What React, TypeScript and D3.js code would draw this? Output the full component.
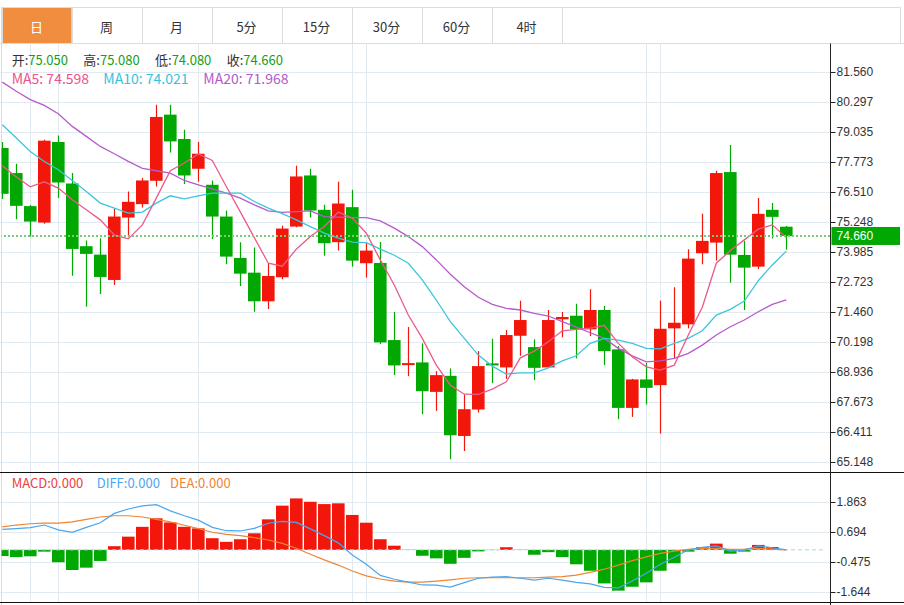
import React from 'react';
import * as d3 from 'd3';

const tabs = ['日', '周', '月', '5分', '15分', '30分', '60分', '4时'];

const opens = [78.361, 77.307, 75.916, 75.224, 78.614, 76.868, 74.229, 73.875, 72.809, 75.435,
  76.000, 76.982, 79.765, 78.740, 77.488, 76.814, 75.477, 73.736, 73.116, 71.911,
  72.922, 75.056, 77.206, 75.760, 74.398, 75.873, 73.513, 73.525, 70.279, 69.225,
  69.339, 68.099, 68.774, 66.244, 67.357, 69.297, 69.128, 70.460, 69.984, 69.128,
  71.152, 71.303, 70.730, 71.544, 69.887, 67.425, 68.622, 68.382, 70.772, 70.941,
  73.934, 74.381, 77.349, 73.862, 73.369, 75.760, 75.050];
const highs = [78.614, 77.699, 75.958, 78.711, 78.892, 77.307, 74.465, 74.567, 75.831, 76.531,
  77.096, 80.186, 80.186, 79.132, 78.614, 76.995, 75.730, 74.398, 74.170, 73.513,
  75.085, 77.615, 77.488, 75.970, 76.940, 76.603, 74.368, 74.411, 71.459, 70.827,
  70.140, 68.972, 69.086, 67.990, 69.815, 70.334, 70.701, 71.936, 70.309, 71.544,
  71.459, 71.809, 72.416, 71.712, 70.026, 68.647, 69.322, 71.936, 72.501, 74.103,
  75.591, 77.404, 78.487, 74.453, 76.253, 76.042, 75.080];
const lows = [76.211, 75.368, 74.634, 75.169, 76.253, 72.990, 71.683, 72.218, 72.598, 74.609,
  75.857, 76.742, 78.175, 76.843, 76.940, 74.537, 73.470, 72.556, 71.472, 71.586,
  72.838, 75.022, 75.435, 73.833, 74.044, 73.369, 72.905, 70.110, 68.803, 68.761,
  67.159, 67.298, 65.262, 65.612, 67.231, 68.466, 68.647, 69.617, 68.593, 69.099,
  70.393, 69.507, 70.448, 69.225, 66.948, 67.045, 67.568, 66.346, 69.491, 70.772,
  73.470, 73.622, 72.695, 71.544, 73.272, 74.549, 74.080];
const closes = [76.434, 75.928, 75.266, 78.669, 76.911, 74.115, 73.905, 72.935, 75.477, 76.097,
  76.995, 79.668, 78.639, 77.206, 78.121, 75.477, 73.791, 73.074, 71.911, 72.977,
  74.971, 77.164, 75.730, 74.356, 76.025, 73.622, 74.044, 70.182, 69.212, 69.309,
  68.129, 68.803, 66.274, 67.370, 69.183, 69.212, 70.490, 71.122, 69.111, 71.122,
  71.249, 70.730, 71.544, 69.815, 67.425, 68.622, 68.268, 70.755, 71.008, 73.707,
  74.453, 77.307, 73.875, 73.327, 75.591, 75.464, 74.660];

const ma5 = [77.615, 77.138, 76.729, 76.940, 76.675, 76.181, 75.760, 75.338, 74.706, 74.537,
  75.127, 76.253, 77.404, 77.728, 78.108, 77.838, 76.742, 75.675, 74.592, 73.513,
  73.386, 74.103, 74.634, 75.056, 75.663, 75.410, 74.777, 73.652, 72.598, 71.333,
  70.351, 69.225, 68.382, 68.002, 67.990, 68.213, 68.521, 69.533, 69.815, 70.207,
  70.671, 70.730, 70.785, 70.899, 70.140, 69.575, 69.153, 69.014, 69.225, 70.490,
  71.658, 73.513, 74.044, 74.495, 74.946, 75.127, 74.598];
const ma10 = [79.343, 78.782, 78.218, 77.796, 77.446, 76.995, 76.531, 76.042, 75.831, 75.621,
  75.663, 76.042, 76.350, 76.223, 76.350, 76.464, 76.464, 76.464, 76.110, 75.831,
  75.604, 75.338, 75.056, 74.777, 74.567, 74.398, 74.381, 74.103, 73.850, 73.513,
  72.809, 71.965, 71.051, 70.351, 69.647, 69.183, 68.846, 68.900, 68.900, 69.111,
  69.406, 69.617, 70.140, 70.351, 70.279, 70.140, 69.929, 69.912, 70.140, 70.351,
  70.671, 71.333, 71.573, 71.923, 72.779, 73.441, 74.021];
const ma20 = [81.135, 80.747, 80.397, 80.157, 79.807, 79.272, 78.850, 78.428, 78.121, 77.796,
  77.501, 77.404, 77.307, 76.995, 76.814, 76.645, 76.464, 76.253, 75.970, 75.718,
  75.654, 75.688, 75.718, 75.477, 75.452, 75.435, 75.435, 75.296, 74.988, 74.634,
  74.212, 73.652, 73.049, 72.526, 72.079, 71.784, 71.615, 71.544, 71.405, 71.291,
  71.051, 70.827, 70.587, 70.351, 69.929, 69.617, 69.364, 69.406, 69.507, 69.718,
  70.068, 70.490, 70.840, 71.122, 71.472, 71.784, 71.968];

const macdBars = [-0.24, -0.28, -0.25, -0.07, -0.48, -0.78, -0.69, -0.43, 0.14, 0.51,
  0.89, 1.22, 1.06, 0.89, 0.83, 0.45, 0.31, 0.41, 0.64, 1.18,
  1.71, 1.99, 1.86, 1.77, 1.80, 1.35, 1.05, 0.41, 0.16, 0.01,
  -0.23, -0.33, -0.54, -0.31, -0.06, -0.01, 0.10, 0.01, -0.19, -0.09,
  -0.28, -0.56, -0.81, -1.30, -1.58, -1.43, -1.26, -0.81, -0.52, -0.07,
  0.10, 0.24, -0.15, -0.07, 0.19, 0.11, 0];
const diffLine = [0.79, 0.82, 0.86, 0.96, 0.77, 0.68, 0.87, 1.05, 1.41, 1.58,
  1.70, 1.75, 1.51, 1.32, 1.15, 0.87, 0.74, 0.73, 0.83, 1.03,
  1.10, 1.06, 0.81, 0.55, 0.27, -0.20, -0.56, -0.99, -1.14, -1.25,
  -1.36, -1.37, -1.44, -1.27, -1.10, -1.06, -1.04, -1.10, -1.17, -1.10,
  -1.17, -1.26, -1.32, -1.45, -1.47, -1.21, -0.91, -0.56, -0.29, 0.00,
  0.10, 0.15, -0.05, -0.01, 0.15, 0.08, 0.00];
const deaLine = [0.89, 0.96, 1.01, 1.03, 1.03, 1.08, 1.18, 1.27, 1.32, 1.32,
  1.27, 1.18, 1.08, 0.95, 0.82, 0.68, 0.60, 0.55, 0.47, 0.38,
  0.25, 0.06, -0.17, -0.39, -0.59, -0.82, -1.01, -1.13, -1.21, -1.25,
  -1.25, -1.21, -1.16, -1.10, -1.08, -1.08, -1.08, -1.08, -1.08, -1.06,
  -1.04, -0.98, -0.87, -0.75, -0.59, -0.42, -0.27, -0.14, -0.05, 0.02,
  0.06, 0.06, 0.02, 0.03, 0.06, 0.03, 0.00];

const priceTicks = [81.560, 80.297, 79.035, 77.773, 76.510, 75.248, 73.985, 72.723, 71.460, 70.198, 68.936, 67.673, 66.411, 65.148];
const macdTicks = [1.863, 0.694, -0.475, -1.644];
const dividerIdx = [2, 4, 14, 25, 26, 46, 47];

const ohlcLabels = [
  { name: '开', value: '75.050' },
  { name: '高', value: '75.080' },
  { name: '低', value: '74.080' },
  { name: '收', value: '74.660' },
];
const maLabels = [
  { text: 'MA5: 74.598', color: '#f0508c' },
  { text: 'MA10: 74.021', color: '#35c3db' },
  { text: 'MA20: 71.968', color: '#b459c9' },
];
const macdLabels = [
  { text: 'MACD:0.000', color: '#f04040' },
  { text: 'DIFF:0.000', color: '#4ba6ee' },
  { text: 'DEA:0.000', color: '#f08432' },
];
const lastPrice = 74.660;

const RED = '#f2160b';
const GREEN = '#02a802';
const GRID = '#e1eaf1';
const CJK = '"Noto Sans CJK SC", "Noto Sans", sans-serif';
const AXF = '"Liberation Sans", Arial, sans-serif';

export default function App() {
  const W = 904, H = 605;
  const axisX = 830.5;
  const n = closes.length;
  const x = d3.scaleLinear().domain([0, n - 1]).range([2.3, 786.3]);
  const yP = d3.scaleLinear().domain([65.148, 81.56]).range([462, 72]);
  const yM = d3.scaleLinear().domain([-1.644, 1.863]).range([592.3, 501.7]);
  const bw = 12.6;
  const pLine = (s: number[]) => d3.line<number>().x((_, i) => x(i)).y((d) => yP(d))(s) || '';
  const mLine = (s: number[]) => d3.line<number>().x((_, i) => x(i)).y((d) => yM(d))(s) || '';
  const tabX = d3.scaleLinear().domain([0, 1]).range([1.5, 71.5]);
  const ohlcX = [11.7, 83.3, 155, 226.7];
  const maX = [11.7, 103.3, 203.3];
  const macdX = [11.7, 96.7, 170];

  return (
    <svg width={W} height={H} style={{ position: 'absolute', left: 0, top: 0, background: '#fff' }}>
      <defs>
        <clipPath id="pclip"><rect x={1.5} y={43.5} width={axisX - 1.5} height={428.5} /></clipPath>
        <clipPath id="mclip"><rect x={1.5} y={472.5} width={axisX - 1.5} height={129.5} /></clipPath>
      </defs>
      {/* tabs */}
      <rect x={tabX(0) + 0.5} y={8} width={69.5} height={35} fill="#f18d3e" />
      <line x1={1} x2={900.5} y1={7.5} y2={7.5} stroke="#dcdcdc" />
      <line x1={0} x2={W} y1={43.5} y2={43.5} stroke="#dcdcdc" />
      {d3.range(tabs.length + 1).map((k) => (
        <line key={'tb' + k} x1={Math.round(tabX(k)) + 0.5} x2={Math.round(tabX(k)) + 0.5} y1={7.5} y2={43.5} stroke="#dcdcdc" />
      ))}
      <line x1={900.5} x2={900.5} y1={7.5} y2={43.5} stroke="#dcdcdc" />
      {tabs.map((t, k) => (
        <text key={'t' + k} x={(tabX(k) + tabX(k + 1)) / 2} y={26} textAnchor="middle" dominantBaseline="central"
          fontFamily={CJK} fontSize={13} fill={k === 0 ? '#fff' : '#333'}>{t}</text>
      ))}
      {/* left border */}
      <line x1={1.5} x2={1.5} y1={7} y2={H} stroke="#dcdcdc" />
      {/* horizontal grid */}
      {priceTicks.map((v) => (
        <line key={'pg' + v} x1={0} x2={axisX} y1={Math.round(yP(v)) + 0.5} y2={Math.round(yP(v)) + 0.5} stroke={GRID} />
      ))}
      {macdTicks.map((v) => (
        <line key={'mg' + v} x1={0} x2={axisX} y1={Math.round(yM(v)) + 0.5} y2={Math.round(yM(v)) + 0.5} stroke={GRID} />
      ))}
      {/* vertical dividers */}
      {dividerIdx.map((i) => (
        <line key={'vd' + i} x1={Math.floor(x(i)) + 0.5} x2={Math.floor(x(i)) + 0.5} y1={43.5} y2={602} stroke={GRID} />
      ))}
      {/* candles */}
      <g clipPath="url(#pclip)">
        {closes.map((c, i) => {
          const o = opens[i];
          const up = c > o;
          const col = up ? RED : GREEN;
          const cx = x(i);
          const top = yP(Math.max(o, c));
          const bot = yP(Math.min(o, c));
          return (
            <g key={'c' + i}>
              <line x1={Math.floor(cx) + 0.5} x2={Math.floor(cx) + 0.5} y1={yP(highs[i])} y2={yP(lows[i])} stroke={col} strokeWidth={1.2} />
              <rect x={cx - bw / 2} y={top} width={bw} height={Math.max(1.5, bot - top)} fill={col} />
            </g>
          );
        })}
        <path d={pLine(ma20)} fill="none" stroke="#b65ccb" strokeWidth={1.3} />
        <path d={pLine(ma10)} fill="none" stroke="#3cc6dc" strokeWidth={1.3} />
        <path d={pLine(ma5)} fill="none" stroke="#ec5a8c" strokeWidth={1.3} />
        <line x1={0} x2={axisX} y1={yP(lastPrice)} y2={yP(lastPrice)} stroke="#74cc74" strokeWidth={2} strokeDasharray="2,2" />
      </g>
      {/* header texts */}
      {ohlcLabels.map((d, k) => (
        <text key={'o' + k} x={ohlcX[k]} y={65} fontFamily={CJK} fontSize={13} fill="#333">
          {d.name}:<tspan fill="#15a015">{d.value}</tspan>
        </text>
      ))}
      {maLabels.map((d, k) => (
        <text key={'m' + k} x={maX[k]} y={83.5} fontFamily={CJK} fontSize={14} fill={d.color}>{d.text}</text>
      ))}
      {/* MACD panel */}
      <g clipPath="url(#mclip)">
        {macdBars.map((v, i) => {
          const y0 = yM(0);
          const y1 = yM(v);
          return (
            <rect key={'mb' + i} x={x(i) - bw / 2} y={Math.min(y0, y1)} width={bw} height={Math.abs(y1 - y0)} fill={v >= 0 ? RED : GREEN} />
          );
        })}
        <line x1={0} x2={826} y1={yM(0)} y2={yM(0)} stroke="#a9d7ee" strokeDasharray="4,3" />
        <path d={mLine(deaLine)} fill="none" stroke="#f08432" strokeWidth={1.2} />
        <path d={mLine(diffLine)} fill="none" stroke="#4ba6ee" strokeWidth={1.2} />
      </g>
      {macdLabels.map((d, k) => (
        <text key={'ml' + k} x={macdX[k]} y={488} fontFamily={CJK} fontSize={13} fill={d.color}>{d.text}</text>
      ))}
      {/* panel separators */}
      <line x1={0} x2={W} y1={472.5} y2={472.5} stroke="#111" />
      <line x1={0} x2={W} y1={602.5} y2={602.5} stroke="#111" />
      {/* right axis */}
      <line x1={axisX} x2={axisX} y1={43.5} y2={H} stroke="#222" />
      {priceTicks.map((v) => (
        <g key={'pt' + v}>
          <line x1={axisX} x2={axisX + 5} y1={Math.round(yP(v)) + 0.5} y2={Math.round(yP(v)) + 0.5} stroke="#222" />
          <text x={836.5} y={yP(v)} dominantBaseline="central" fontFamily={AXF} fontSize={12} fill="#333">{v.toFixed(3)}</text>
        </g>
      ))}
      {macdTicks.map((v) => (
        <g key={'mt' + v}>
          <line x1={axisX} x2={axisX + 5} y1={Math.round(yM(v)) + 0.5} y2={Math.round(yM(v)) + 0.5} stroke="#222" />
          <text x={836.5} y={yM(v)} dominantBaseline="central" fontFamily={AXF} fontSize={12} fill="#333">{v.toFixed(3)}</text>
        </g>
      ))}
      {/* last price tag */}
      <rect x={831.5} y={yP(lastPrice) - 9} width={68.5} height={18} fill={GREEN} />
      <text x={836.5} y={yP(lastPrice)} dominantBaseline="central" fontFamily={AXF} fontSize={12} fill="#fff">{lastPrice.toFixed(3)}</text>
    </svg>
  );
}
